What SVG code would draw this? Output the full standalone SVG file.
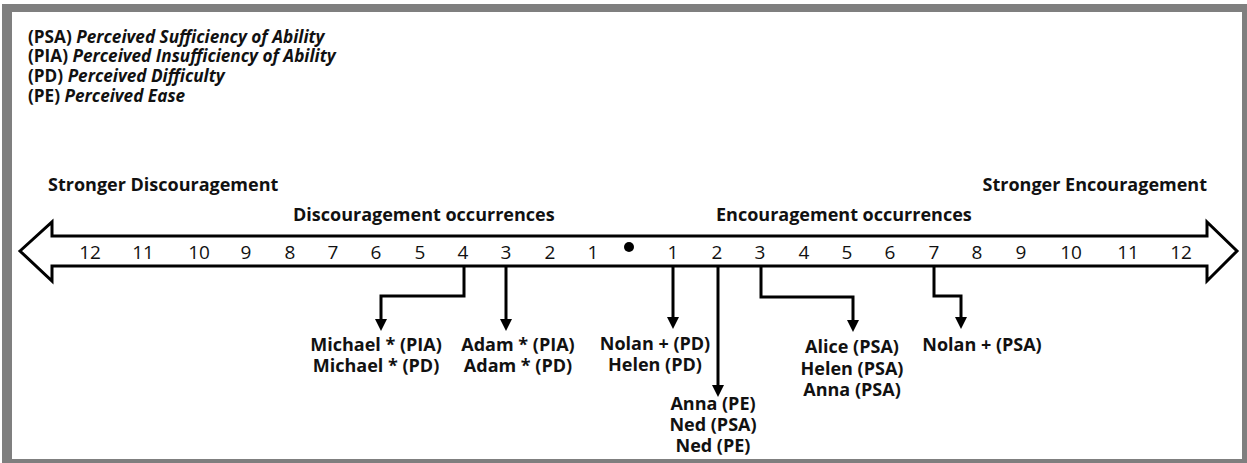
<svg xmlns="http://www.w3.org/2000/svg" width="1247" height="463" viewBox="0 0 1247 463">
<style>
text{font-family:"Open Sans","Noto Sans","DejaVu Sans",sans-serif;fill:#111}
.b{font-weight:700;font-size:18px}
.lg{font-weight:700;font-size:17.2px}
.it{font-style:italic}
.num{font-size:19px;text-anchor:middle}
.lab{font-weight:700;font-size:18px;text-anchor:middle}
.con{fill:none;stroke:#000;stroke-width:3}
</style>
<defs>
<marker id="ah" viewBox="0 0 12 12" refX="1" refY="6" markerWidth="12" markerHeight="12" markerUnits="userSpaceOnUse" orient="auto">
<path d="M0,0 L12,6 L0,12 z" fill="#000"/>
</marker>
</defs>
<rect x="0" y="0" width="1247" height="463" fill="#fff"/>
<path d="M2,4 H1247 V463 H2 Z M12,12 V459 H1242 V12 Z" fill="#7f7f7f" fill-rule="evenodd"/>
<g id="legend">
<text class="lg" x="28" y="42.5">(PSA) <tspan class="it">Perceived Sufficiency of Ability</tspan></text>
<text class="lg" x="28" y="62.3">(PIA) <tspan class="it">Perceived Insufficiency of Ability</tspan></text>
<text class="lg" x="28" y="82.1">(PD) <tspan class="it">Perceived Difficulty</tspan></text>
<text class="lg" x="28" y="101.9">(PE) <tspan class="it">Perceived Ease</tspan></text>
</g>
<g id="headings">
<text class="b" x="48" y="191">Stronger Discouragement</text>
<text class="b" x="1207" y="191" text-anchor="end">Stronger Encouragement</text>
<text class="b" x="293" y="221">Discouragement occurrences</text>
<text class="b" x="716" y="221">Encouragement occurrences</text>
</g>
<g id="scale">
<polygon points="20,251 52,222 52,236 1207,236 1207,222 1237,251 1207,281 1207,266 52,266 52,281" fill="#fff" stroke="#000" stroke-width="3" stroke-linejoin="miter"/>
<g class="num">
<text x="90" y="259">12</text><text x="143" y="259">11</text><text x="199" y="259">10</text>
<text x="246" y="259">9</text><text x="290" y="259">8</text><text x="333" y="259">7</text>
<text x="376" y="259">6</text><text x="420" y="259">5</text><text x="463" y="259">4</text>
<text x="506" y="259">3</text><text x="550" y="259">2</text><text x="593" y="259">1</text>
<text x="673" y="259">1</text><text x="717" y="259">2</text><text x="760" y="259">3</text>
<text x="804" y="259">4</text><text x="847" y="259">5</text><text x="890" y="259">6</text>
<text x="934" y="259">7</text><text x="977" y="259">8</text><text x="1021" y="259">9</text>
<text x="1071" y="259">10</text><text x="1128" y="259">11</text><text x="1181" y="259">12</text>
</g>
<circle cx="629" cy="247" r="5" fill="#000"/>
</g>
<g id="connectors">
<path class="con" marker-end="url(#ah)" d="M464,267 V296 H381 V320"/>
<path class="con" marker-end="url(#ah)" d="M506,267 V320"/>
<path class="con" marker-end="url(#ah)" d="M673,267 V318"/>
<path class="con" marker-end="url(#ah)" d="M718,267 V386"/>
<path class="con" marker-end="url(#ah)" d="M761,267 V297 H853 V321"/>
<path class="con" marker-end="url(#ah)" d="M934,267 V296 H961 V318"/>
</g>
<g id="node-michael">
<text class="lab" x="376" y="351">Michael * (PIA)</text>
<text class="lab" x="376" y="371.5">Michael * (PD)</text>
</g>
<g id="node-adam">
<text class="lab" x="518" y="351">Adam * (PIA)</text>
<text class="lab" x="518" y="371.5">Adam * (PD)</text>
</g>
<g id="node-nolan-helen">
<text class="lab" x="655" y="350">Nolan + (PD)</text>
<text class="lab" x="655" y="370.5">Helen (PD)</text>
</g>
<g id="node-anna-ned">
<text class="lab" x="713" y="409.5">Anna (PE)</text>
<text class="lab" x="713" y="430.5">Ned (PSA)</text>
<text class="lab" x="713" y="451.5">Ned (PE)</text>
</g>
<g id="node-alice">
<text class="lab" x="852" y="353">Alice (PSA)</text>
<text class="lab" x="852" y="374.5">Helen (PSA)</text>
<text class="lab" x="852" y="396">Anna (PSA)</text>
</g>
<g id="node-nolan-psa">
<text class="lab" x="982" y="351">Nolan + (PSA)</text>
</g>
</svg>
